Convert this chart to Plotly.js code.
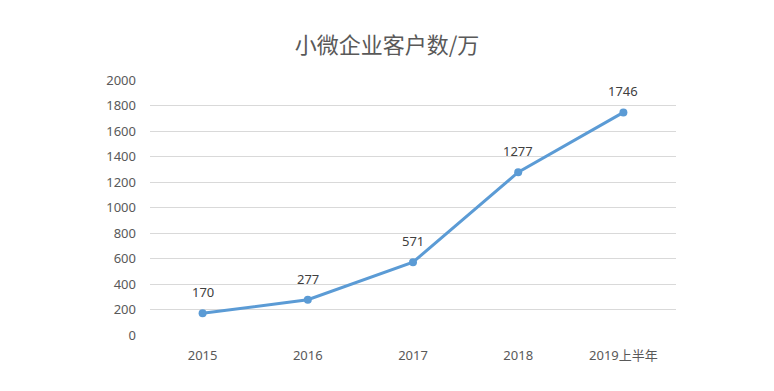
<!DOCTYPE html>
<html><head><meta charset="utf-8">
<script src="https://cdn.plot.ly/plotly-3.0.1.min.js"></script>
<style>html,body{margin:0;padding:0;background:#fff;}#chart{width:774px;height:391px;}</style>
</head><body><div id="chart"></div>
<script>
const categories = ["2015", "2016", "2017", "2018", "2019上半年"];
const customers = [170, 277, 571, 1277, 1746];
const yTicks = [0, 200, 400, 600, 800, 1000, 1200, 1400, 1600, 1800, 2000];
const chartTitle = "小微企业客户数/万";

const trace = {
  x: categories, y: customers, type: "scatter", mode: "lines+markers",
  line: {color: "#5B9BD5", width: 3},
  marker: {color: "#5B9BD5", size: 8},
  cliponaxis: false, hoverinfo: "skip"
};
// category axis: annotation x given as category index (year strings would be read as numbers)
const labels = categories.map((c, i) => ({
  x: i, y: customers[i], text: String(customers[i]), showarrow: false,
  yshift: 21, xanchor: "center", yanchor: "middle",
  font: {family: "Noto Sans, Noto Sans CJK SC, sans-serif", size: 13, color: "#404040"}
}));
const layout = {
  width: 774, height: 391,
  margin: {l: 150, r: 98, t: 80, b: 56},
  paper_bgcolor: "#fff", plot_bgcolor: "#fff",
  showlegend: false,
  title: {text: chartTitle, x: 0.5, xanchor: "center", y: 0.885, yanchor: "middle",
    font: {family: "Noto Sans CJK SC, sans-serif", size: 22, color: "#595959"}},
  xaxis: {type: "category", range: [-0.5, 4.5], showgrid: false, zeroline: false, showline: false, ticks: "",
    tickfont: {family: "Noto Sans, Noto Sans CJK SC, sans-serif", size: 13, color: "#595959"},
    ticklabelstandoff: 11},
  yaxis: {range: [0, 2000], tickvals: yTicks, ticktext: yTicks.map(String),
    showgrid: true, gridcolor: "#d9d9d9", gridwidth: 1, zeroline: false, showline: false, ticks: "",
    tickfont: {family: "Noto Sans, sans-serif", size: 13, color: "#595959"},
    ticklabelstandoff: 13},
  annotations: labels
};
Plotly.newPlot("chart", [trace], layout, {displayModeBar: false, staticPlot: true});
</script></body></html>
